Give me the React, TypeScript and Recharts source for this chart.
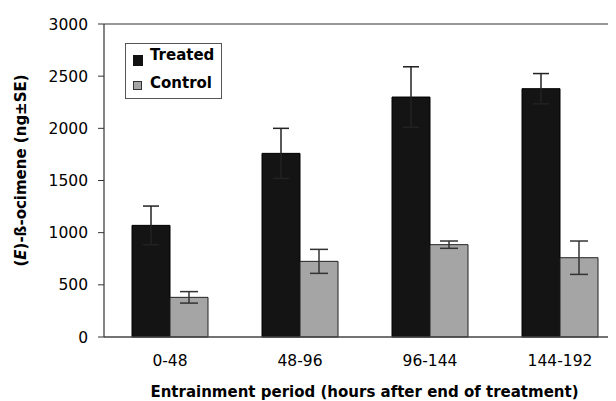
import React from "react";
import { BarChart, Bar, XAxis, YAxis, ErrorBar, ReferenceLine, Legend } from "recharts";

const categories = ["0-48", "48-96", "96-144", "144-192"];
const treated = [1070, 1760, 2300, 2380];
const treatedErr = [185, 240, 290, 145];
const control = [380, 725, 885, 760];
const controlErr = [55, 115, 35, 160];
const yTicks = [0, 500, 1000, 1500, 2000, 2500, 3000];

const data = categories.map((c, i) => ({
  period: c,
  treated: treated[i],
  treatedErr: treatedErr[i],
  control: control[i],
  controlErr: controlErr[i],
}));

const FONT = "'DejaVu Sans', sans-serif";

const renderLegend = () => (
  <div
    style={{
      border: "1px solid #555",
      width: 97,
      height: 56,
      boxSizing: "border-box",
      fontFamily: FONT,
      fontWeight: "bold",
      fontSize: 15,
      color: "#000",
      position: "relative",
    }}
  >
    <div style={{ position: "absolute", left: 7, top: 11, width: 10, height: 11, background: "#111" }} />
    <div style={{ position: "absolute", left: 24, top: 2, lineHeight: "18px" }}>Treated</div>
    <div
      style={{
        position: "absolute",
        left: 7,
        top: 37,
        width: 9,
        height: 9,
        background: "#a5a5a5",
        border: "1px solid #333",
        boxSizing: "border-box",
      }}
    />
    <div style={{ position: "absolute", left: 24, top: 30, lineHeight: "18px" }}>Control</div>
  </div>
);

const YLabel = (props: any) => {
  const vb = props.viewBox || {};
  const cy = vb.y + vb.height / 2 - 10;
  const x = 26;
  return (
    <text
      x={x}
      y={cy}
      transform={`rotate(-90, ${x}, ${cy})`}
      textAnchor="middle"
      fontFamily={FONT}
      fontWeight="bold"
      fontSize={15}
      fill="#000"
    >
      (<tspan fontStyle="italic">E</tspan>)-ß-ocimene (ng±SE)
    </text>
  );
};

const XLabel = (props: any) => {
  const vb = props.viewBox || {};
  return (
    <text
      x={vb.x + vb.width / 2}
      y={397}
      textAnchor="middle"
      fontFamily={FONT}
      fontWeight="bold"
      fontSize={15}
      fill="#000"
    >
      Entrainment period (hours after end of treatment)
    </text>
  );
};

export default function App() {
  return (
    <div style={{ width: 616, height: 401, overflow: "hidden", marginLeft: -8, marginTop: -8, background: "#fff" }}>
      <BarChart
        width={625}
        height={401}
        data={data}
        margin={{ top: 24, right: 0, bottom: 0, left: 44 }}
        barCategoryGap={27}
        barGap={0}
      >
        <XAxis
          dataKey="period"
          height={64}
          axisLine={{ stroke: "#444", strokeWidth: 1.5 }}
          tickLine={false}
          tickSize={0}
          tickMargin={18}
          tick={{ fontFamily: FONT, fontSize: 15.5, fill: "#000" }}
          padding={{ left: 1, right: 0 }}
          label={<XLabel />}
        />
        <YAxis
          width={60}
          domain={[0, 3000]}
          ticks={yTicks}
          interval={0}
          axisLine={{ stroke: "#333", strokeWidth: 1.2 }}
          tickLine={{ stroke: "#333" }}
          tickSize={6}
          tickMargin={10}
          tick={{ fontFamily: FONT, fontSize: 15.5, fill: "#000" }}
          label={<YLabel />}
        />
        <ReferenceLine y={3000} stroke="#333" strokeWidth={1.2} />
        <Legend
          layout="vertical"
          align="center"
          verticalAlign="middle"
          content={renderLegend}
          wrapperStyle={{ position: "absolute", left: 125, top: 43, width: 97, height: 56 }}
        />
        <Bar dataKey="treated" fill="#141414" stroke="#000" strokeWidth={1} isAnimationActive={false}>
          <ErrorBar dataKey="treatedErr" width={8} stroke="#222" strokeWidth={1.5} direction="y" />
        </Bar>
        <Bar dataKey="control" fill="#a5a5a5" stroke="#222" strokeWidth={1} isAnimationActive={false}>
          <ErrorBar dataKey="controlErr" width={9} stroke="#333" strokeWidth={1.5} direction="y" />
        </Bar>
      </BarChart>
    </div>
  );
}
